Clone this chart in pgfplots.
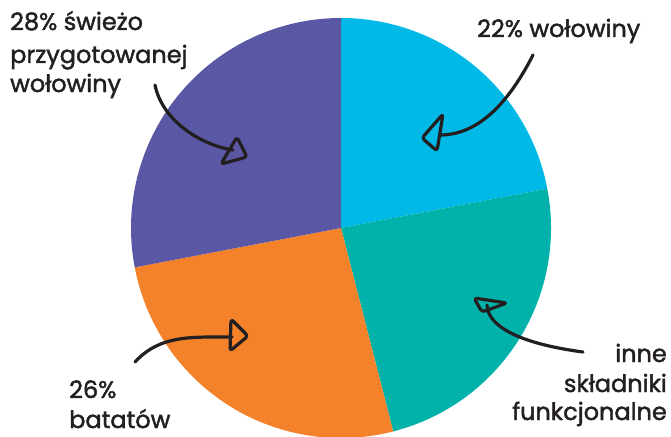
\documentclass[border=0pt]{standalone}
\usepackage{pgfplots}
\pgfplotsset{compat=1.18}
\usepackage{pgfplotstable}
\usepackage{fontspec}
\setmainfont{Poppins}[FakeBold=1.7]

\definecolor{pcyan}{RGB}{0,185,230}
\definecolor{pteal}{RGB}{0,178,170}
\definecolor{porange}{RGB}{243,130,42}
\definecolor{ppurple}{RGB}{90,87,165}
\definecolor{ink}{RGB}{35,31,32}

% udzial skladnikow [%], zgodnie z ruchem wskazowek od gory
\pgfplotstableread{
pct col
22 pcyan
24 pteal
26 porange
28 ppurple
}\piedata

\begin{document}
\begin{tikzpicture}[font=\fontsize{24}{29}\selectfont]
% katy poczatku i konca kazdego wycinka
\def\cum{0}
\pgfplotsforeachungrouped \i in {0,...,3}{%
  \pgfplotstablegetelem{\i}{pct}\of\piedata \let\p\pgfplotsretval
  \pgfmathsetmacro\sa{90-3.6*\cum}%
  \pgfmathsetmacro\cum{\cum+\p}%
  \pgfmathsetmacro\ea{90-3.6*\cum}%
  \expandafter\xdef\csname sa\i\endcsname{\sa}%
  \expandafter\xdef\csname ea\i\endcsname{\ea}%
  \pgfplotstablegetelem{\i}{col}\of\piedata
  \expandafter\xdef\csname co\i\endcsname{\pgfplotsretval}%
}
\begin{axis}[
    hide axis,
    scale only axis,
    width=671pt, height=436pt,
    xmin=0, xmax=671, ymin=0, ymax=436,
    y dir=reverse,
    clip=true,
  ]
\pgfplotsinvokeforeach{0,...,3}{%
  \edef\wedge{\noexpand\fill[\csname co#1\endcsname] (axis cs:341,228)
    -- ++(\csname sa#1\endcsname:210pt)
    arc[start angle=\csname sa#1\endcsname, end angle=\csname ea#1\endcsname, radius=210pt]
    -- cycle;}%
  \wedge
}

% strzalki
\begin{scope}[draw=ink, line width=3.2pt, line cap=round, line join=round]
\draw (axis cs:533,55) .. controls (axis cs:510,100) and (axis cs:480,135) .. (axis cs:440,135);
\draw[rounded corners=3pt] (axis cs:443,114) -- (axis cs:422,138) -- (axis cs:437,151) -- cycle;

\draw (axis cs:155,85) .. controls (axis cs:162,120) and (axis cs:200,145) .. (axis cs:233,150);
\draw[rounded corners=3pt] (axis cs:237,137) -- (axis cs:221,164) -- (axis cs:247,157) -- cycle;

\draw (axis cs:135,362) .. controls (axis cs:160,335) and (axis cs:190,337) .. (axis cs:232,337);
\draw[rounded corners=3pt] (axis cs:231,319) -- (axis cs:230,351) -- (axis cs:248,336) -- cycle;

\draw (axis cs:583,352) .. controls (axis cs:530,345) and (axis cs:488,330) .. (axis cs:487,305);
\draw[rounded corners=3pt] (axis cs:474,298) -- (axis cs:507,303) -- (axis cs:482,312) -- cycle;
\end{scope}

% podpisy
\begin{scope}[text=ink, inner sep=0pt]
\node[anchor=base west] at (axis cs:10,30) {28\% świeżo};
\node[anchor=base west] at (axis cs:10,63) {przygotowanej};
\node[anchor=base west] at (axis cs:10,92) {wołowiny};
\node[anchor=base west] at (axis cs:477,37) {22\% wołowiny};
\node[anchor=base west] at (axis cs:69,398) {26\%};
\node[anchor=base west] at (axis cs:69,428) {batatów};
\node[anchor=base east] at (axis cs:667,362) {inne};
\node[anchor=base east] at (axis cs:667,392) {składniki};
\node[anchor=base east] at (axis cs:667,420) {funkcjonalne};
\end{scope}
\end{axis}
\pgfresetboundingbox
\useasboundingbox (current axis.south west) rectangle (current axis.north east);
\end{tikzpicture}
\end{document}
